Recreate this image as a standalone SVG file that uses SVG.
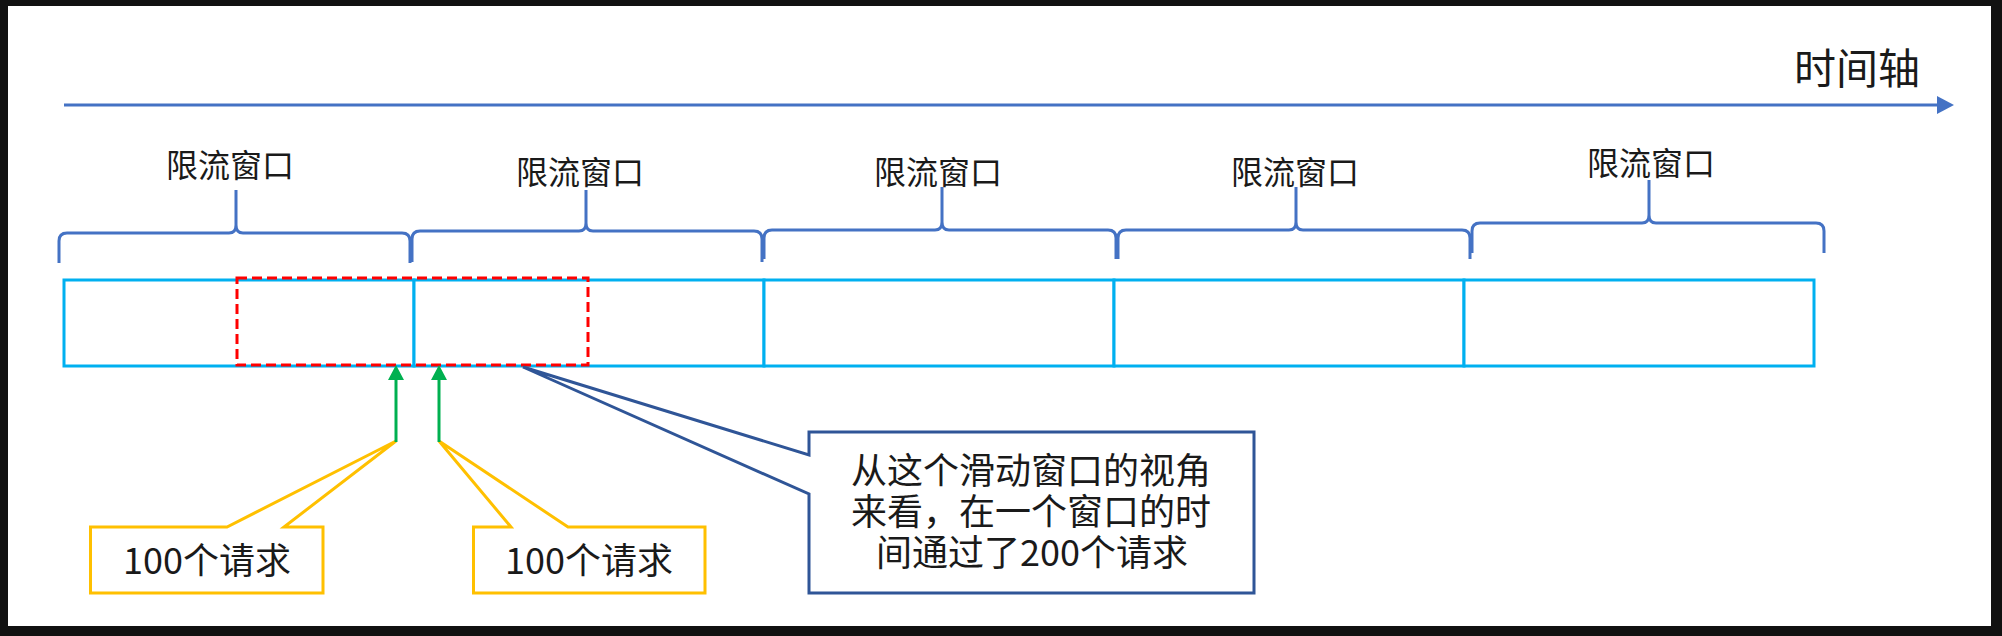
<svg xmlns="http://www.w3.org/2000/svg" width="2002" height="636" viewBox="0 0 2002 636">
<style>
.lbl{font-family:"Noto Sans CJK SC","Noto Sans",sans-serif;fill:#1a1a1a;text-anchor:middle}
.win{font-size:32px}
.call{font-size:36px}
.brace{fill:none;stroke:#4472C4;stroke-width:3;stroke-linejoin:round}
.cell{fill:#fff;stroke:#00B0F0;stroke-width:3}
.yc{fill:#fff;stroke:#FFC000;stroke-width:3;stroke-linejoin:miter}
.bc{fill:#fff;stroke:#2F5597;stroke-width:3;stroke-linejoin:miter}
.green{stroke:#00B050;stroke-width:3;fill:none}
</style>
<defs>
<marker id="axisHead" markerUnits="userSpaceOnUse" markerWidth="20" markerHeight="20" refX="0" refY="9" orient="auto">
<path d="M0,0 L17,9 L0,18 Z" fill="#4472C4"/>
</marker>
<marker id="greenHead" markerUnits="userSpaceOnUse" markerWidth="18" markerHeight="18" refX="0" refY="8" orient="auto">
<path d="M0,0 L15,8 L0,16 Z" fill="#00B050"/>
</marker>
</defs>
<rect x="0" y="0" width="2002" height="636" fill="#111"/>
<rect x="8" y="6" width="1983" height="620" fill="#fff"/>

<g id="time-axis">
<line x1="64" y1="105" x2="1937" y2="105" stroke="#4472C4" stroke-width="3" marker-end="url(#axisHead)"/>
<text class="lbl" x="1857" y="84" font-size="42">时间轴</text>
</g>

<g id="window-1">
<path class="brace" d="M59,263 L59,241 Q59,233 67,233 L229,233 Q236,233 236,225 L236,190 M236,225 Q236,233 243,233 L402,233 Q410,233 410,241 L410,263"/>
<text class="lbl win" x="230" y="177">限流窗口</text>
<rect class="cell" x="64" y="280" width="350" height="86"/>
</g>
<g id="window-2">
<path class="brace" d="M412,262 L412,239 Q412,231 420,231 L579,231 Q586,231 586,223 L586,190 M586,223 Q586,231 593,231 L754,231 Q762,231 762,239 L762,262"/>
<text class="lbl win" x="580" y="184">限流窗口</text>
<rect class="cell" x="414" y="280" width="350" height="86"/>
</g>
<g id="window-3">
<path class="brace" d="M764,259 L764,238 Q764,230 772,230 L935,230 Q942,230 942,222 L942,187 M942,222 Q942,230 949,230 L1108,230 Q1116,230 1116,238 L1116,259"/>
<text class="lbl win" x="938" y="184">限流窗口</text>
<rect class="cell" x="764" y="280" width="350" height="86"/>
</g>
<g id="window-4">
<path class="brace" d="M1118,259 L1118,238 Q1118,230 1126,230 L1289,230 Q1296,230 1296,222 L1296,187 M1296,222 Q1296,230 1303,230 L1462,230 Q1470,230 1470,238 L1470,259"/>
<text class="lbl win" x="1295" y="184">限流窗口</text>
<rect class="cell" x="1114" y="280" width="350" height="86"/>
</g>
<g id="window-5">
<path class="brace" d="M1472,253 L1472,231 Q1472,223 1480,223 L1642,223 Q1649,223 1649,215 L1649,180 M1649,215 Q1649,223 1656,223 L1816,223 Q1824,223 1824,231 L1824,253"/>
<text class="lbl win" x="1651" y="175">限流窗口</text>
<rect class="cell" x="1464" y="280" width="350" height="86"/>
</g>

<g id="sliding-window">
<rect x="237" y="278" width="351" height="87" fill="none" stroke="#FF0000" stroke-width="3" stroke-dasharray="10 5"/>
</g>

<g id="callout-requests-1">
<path class="yc" d="M90.5,527 L227,527 L396,441 L284,527 L323,527 L323,593 L90.5,593 Z"/>
<text class="lbl call" x="207" y="574">100个请求</text>
</g>
<g id="callout-requests-2">
<path class="yc" d="M473.5,527 L511,527 L439,441 L568,527 L705,527 L705,593 L473.5,593 Z"/>
<text class="lbl call" x="589" y="574">100个请求</text>
</g>
<g id="callout-sliding">
<path class="bc" d="M809,432 L1254,432 L1254,593 L809,593 L809,494 L523,367 L809,455 Z"/>
<text class="lbl call"><tspan x="1031" y="484">从这个滑动窗口的视角</tspan><tspan x="1031" y="525">来看，在一个窗口的时</tspan><tspan x="1032" y="566">间通过了200个请求</tspan></text>
</g>

<g id="connectors">
<line class="green" x1="396" y1="442" x2="396" y2="380" marker-end="url(#greenHead)"/>
<line class="green" x1="439" y1="442" x2="439" y2="380" marker-end="url(#greenHead)"/>
</g>
</svg>
